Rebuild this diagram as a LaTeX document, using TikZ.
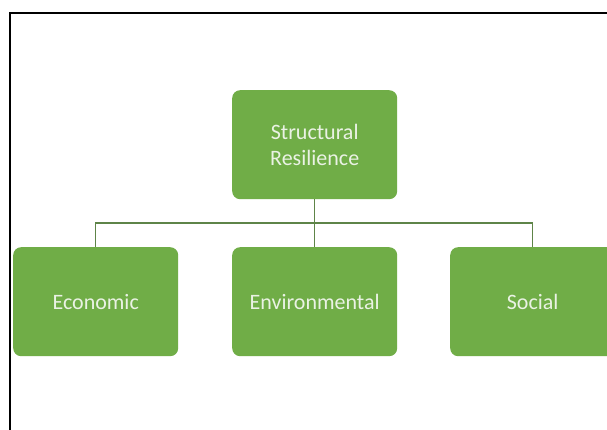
\documentclass[tikz,border=0pt]{standalone}
\usepackage{fontspec}
\setmainfont{Carlito}
\begin{document}
\begin{tikzpicture}[x=1pt,y=-1pt,
  gbox/.style={fill=boxgreen, draw=none, rounded corners=8pt, minimum width=165pt, minimum height=109pt, inner sep=0pt, text=textlight, font=\fontsize{22}{26}\selectfont, align=center, anchor=north west},
  conn/.style={draw=linegreen, line width=1.3pt}]
\definecolor{boxgreen}{HTML}{70AD47}
\definecolor{linegreen}{HTML}{5E8448}
\definecolor{textlight}{HTML}{EAF2E4}
\useasboundingbox (0,0) rectangle (607,430);
\clip (0,0) rectangle (607,430);
\fill[white] (0,0) rectangle (607,430);
\draw[black, line width=1.5pt] (10,430) -- (10,13) -- (610,13);
\node[gbox] (top) at (232,90) {Structural\\Resilience};
\node[gbox] (eco) at (13,247) {Economic};
\node[gbox] (env) at (232,247) {Environmental};
\node[gbox] (soc) at (450,247) {Social};
\draw[conn] (top.south) -- (env.north);
\draw[conn] (eco.north) -- ++(0,-24) -| (soc.north);
\end{tikzpicture}
\end{document}
